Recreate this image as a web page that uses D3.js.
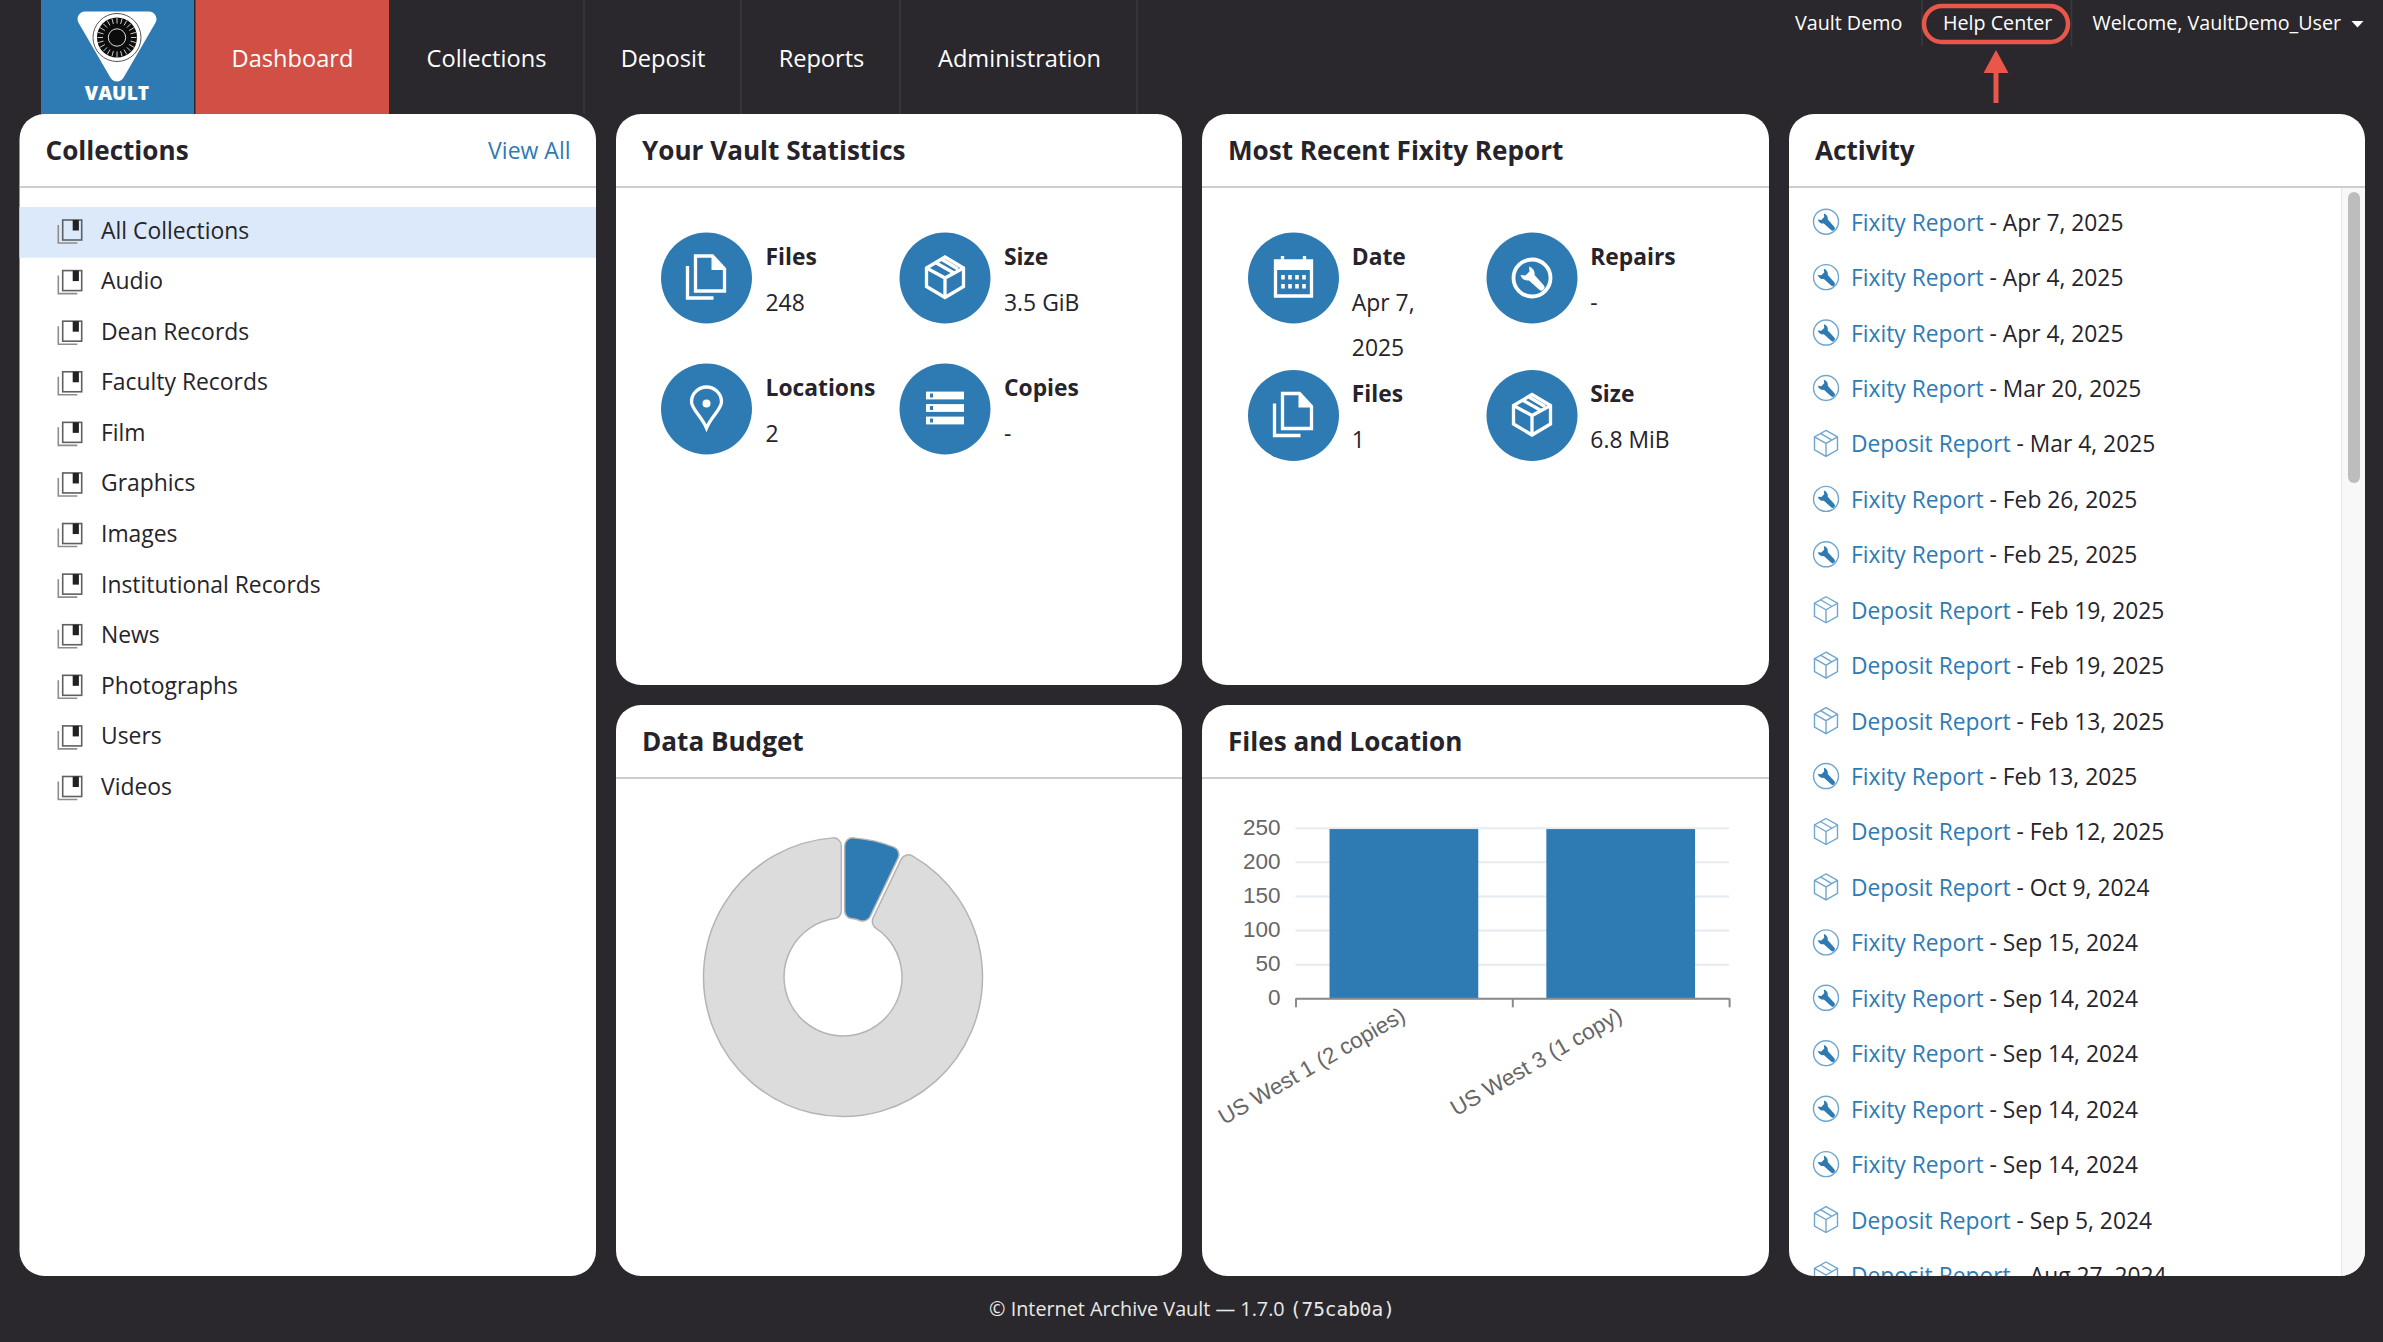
<!DOCTYPE html>
<html>
<head>
<meta charset="utf-8">
<script src="https://d3js.org/d3.v7.min.js"></script>
<style>
  html, body { margin: 0; padding: 0; background: #2a282c; }
  svg { display: block; }
  text { font-family: "Open Sans", sans-serif; }
</style>
</head>
<body>
<svg id="page" width="2383" height="1342"></svg>
<script>
// ---- data ----
var navItems = ["Collections", "Deposit", "Reports", "Administration"];
var navCenters = [486.5, 663, 821.5, 1019.5];
var navSeparators = [584, 741, 900, 1137];

var collections = ["All Collections", "Audio", "Dean Records", "Faculty Records", "Film", "Graphics",
  "Images", "Institutional Records", "News", "Photographs", "Users", "Videos"];

var vaultLabels = ["Files", "Size", "Locations", "Copies"];
var vaultValues = ["248", "3.5 GiB", "2", "-"];
var vaultIcons = ["files", "box", "pin", "server"];

var fixityLabels = ["Date", "Repairs", "Files", "Size"];
var fixityValues = [["Apr 7,", "2025"], ["-"], ["1"], ["6.8 MiB"]];
var fixityIcons = ["calendar", "wrench", "files", "box"];

var budgetNames = ["Used", "Free"];
var budgetValues = [6.8, 93.2];

var locationNames = ["US West 1 (2 copies)", "US West 3 (1 copy)"];
var locationFiles = [248, 248];
var fileTicks = [0, 50, 100, 150, 200, 250];

var activityTypes = ["Fixity", "Fixity", "Fixity", "Fixity", "Deposit", "Fixity", "Fixity", "Deposit", "Deposit", "Deposit",
  "Fixity", "Deposit", "Deposit", "Fixity", "Fixity", "Fixity", "Fixity", "Fixity", "Deposit", "Deposit"];
var activityDates = ["Apr 7, 2025", "Apr 4, 2025", "Apr 4, 2025", "Mar 20, 2025", "Mar 4, 2025", "Feb 26, 2025", "Feb 25, 2025",
  "Feb 19, 2025", "Feb 19, 2025", "Feb 13, 2025", "Feb 13, 2025", "Feb 12, 2025", "Oct 9, 2024", "Sep 15, 2024",
  "Sep 14, 2024", "Sep 14, 2024", "Sep 14, 2024", "Sep 14, 2024", "Sep 5, 2024", "Aug 27, 2024"];

var BLUE = "#2e7bb4", INK = "#26242a", RED = "#e8574a";

var svg = d3.select("#page");
var defs = svg.append("defs");

// ---- icons, drawn around 0,0 ----
function drawIcon(g, name, color, w) {
  var line = function (d) {
    return g.append("path").attr("d", d).attr("fill", "none").attr("stroke", color)
      .attr("stroke-width", w).attr("stroke-linejoin", "miter");
  };
  if (name == "files") {
    line("M-11,-22 H6 L18,-9 V13 H-11 Z");
    g.append("path").attr("d", "M5,-24 L20,-8 H5 Z").attr("fill", color);
    line("M-19,-12 V20 H7");
  } else if (name == "box") {
    line("M0,-21 L18.5,-10 V8.5 L0,19.5 L-18.5,8.5 V-10 Z");
    line("M-18.5,-10 L0,0 L18.5,-10 M0,0 V19.5");
    line("M-9.5,-15.5 L9,-5 M-3,-18.5 L13,-9");
  } else if (name == "pin") {
    line("M0,19 C-5,7 -15,0 -15,-7 A15,15 0 1 1 15,-7 C15,0 5,7 0,19 Z");
    g.append("circle").attr("cy", -5.5).attr("r", 4).attr("fill", color);
  } else if (name == "server") {
    [-13.5, -1, 11.5].forEach(function (y) {
      g.append("rect").attr("x", -19).attr("y", y - 3.9).attr("width", 38).attr("height", 7.8).attr("fill", color);
      g.append("rect").attr("x", -15).attr("y", y - 2).attr("width", 3).attr("height", 4).attr("fill", BLUE);
    });
  } else if (name == "calendar") {
    line("M-18,-17 H18 V18 H-18 Z");
    g.append("rect").attr("x", -18).attr("y", -17).attr("width", 36).attr("height", 9).attr("fill", color);
    line("M-11,-22 V-15 M11,-22 V-15");
    [-10.5, -3.5, 3.5, 10.5].forEach(function (x) {
      [-1, 8].forEach(function (y) {
        g.append("rect").attr("x", x - 1.8).attr("y", y - 2).attr("width", 3.6).attr("height", 4.5).attr("fill", color);
      });
    });
  } else if (name == "wrench") {
    g.append("circle").attr("r", 18.5).attr("fill", "none").attr("stroke", color).attr("stroke-width", w + 0.5);
    wrench(g, color, 1);
  }
}

// spanner used in the repairs icon and the small activity icon
function wrench(g, color, k) {
  g.append("path")
    .attr("d", "M-3,-11.5 L-2.5,-6.5 L-6.5,-2.5 L-11.5,-3 A7.5,7.5 0 0 0 -3,2.5 L7,11.5 A3,3 0 0 0 11.5,7 L2.5,-3 A7.5,7.5 0 0 0 -3,-11.5 Z")
    .attr("transform", "scale(" + k + ")")
    .attr("fill", color);
}

function smallActivityIcon(g, type) {
  var c = "#6fa6cf";
  if (type == "Fixity") {
    g.append("circle").attr("r", 12.5).attr("fill", "none").attr("stroke", c).attr("stroke-width", 1.4);
    wrench(g, BLUE, 0.72);
  } else {
    g.append("path").attr("d", "M0,-13 L11.5,-6.5 V6.5 L0,13 L-11.5,6.5 V-6.5 Z M-11.5,-6.5 L0,0 L11.5,-6.5 M0,0 V13 M-5.5,-10 L5.5,-3.5")
      .attr("fill", "none").attr("stroke", c).attr("stroke-width", 1.4);
  }
}

function collectionIcon(g) {
  g.append("path").attr("d", "M-12.2,-5 V13 H6.8").attr("fill", "none").attr("stroke", "#8d8d8d").attr("stroke-width", 1.6);
  g.append("rect").attr("x", -7.8).attr("y", -10).attr("width", 19).attr("height", 20).attr("fill", "none").attr("stroke", "#5f5f64").attr("stroke-width", 1.6);
  g.append("rect").attr("x", 2.2).attr("y", -10).attr("width", 6.2).attr("height", 10.5).attr("fill", "#222");
}

// ---- top bar ----
svg.append("rect").attr("x", 41).attr("y", 0).attr("width", 153).attr("height", 116).attr("fill", BLUE);
svg.append("rect").attr("x", 195.5).attr("y", 0).attr("width", 193.5).attr("height", 116).attr("fill", "#d14f45");

var logo = svg.append("g").attr("transform", "translate(117,0)");
logo.append("path").attr("d", "M-32,19 H32 L0,74 Z").attr("fill", "#fff").attr("stroke", "#fff")
  .attr("stroke-width", 15).attr("stroke-linejoin", "round");
logo.append("circle").attr("cy", 37.5).attr("r", 24).attr("fill", "#fff").attr("stroke", "#555").attr("stroke-width", 1);
logo.append("circle").attr("cy", 37.5).attr("r", 20).attr("fill", "#0c0c0c");
logo.append("circle").attr("cy", 37.5).attr("r", 8.7).attr("fill", "#0c0c0c").attr("stroke", "#ddd").attr("stroke-width", 1);
d3.range(24).forEach(function (i) {
  var a = i * Math.PI / 12;
  logo.append("line").attr("x1", 14 * Math.cos(a)).attr("y1", 37.5 + 14 * Math.sin(a))
    .attr("x2", 19.5 * Math.cos(a)).attr("y2", 37.5 + 19.5 * Math.sin(a))
    .attr("stroke", "#ccc").attr("stroke-width", 1);
});
logo.append("text").attr("y", 100).attr("text-anchor", "middle").attr("fill", "#fff")
  .attr("font-size", 19.2).attr("font-weight", 800).text("VAULT");

svg.append("text").attr("x", 292.5).attr("y", 59).attr("dy", "0.35em").attr("text-anchor", "middle")
  .attr("fill", "#fff").attr("font-size", 23.6).text("Dashboard");

svg.selectAll(".nav").data(navItems).enter().append("text").attr("class", "nav")
  .attr("x", function (d, i) { return navCenters[i]; }).attr("y", 59).attr("dy", "0.35em")
  .attr("text-anchor", "middle").attr("fill", "#fff").attr("font-size", 23.6).text(function (d) { return d; });

svg.selectAll(".navsep").data(navSeparators).enter().append("line").attr("class", "navsep")
  .attr("x1", function (d) { return d; }).attr("x2", function (d) { return d; })
  .attr("y1", 0).attr("y2", 114).attr("stroke", "#3a383d").attr("stroke-width", 1.5);

[1922, 2071.5].forEach(function (x) {
  svg.append("line").attr("x1", x).attr("x2", x).attr("y1", 0).attr("y2", 46).attr("stroke", "#3a383d").attr("stroke-width", 1.5);
});
function topText(x, s) {
  svg.append("text").attr("x", x).attr("y", 23).attr("dy", "0.35em").attr("fill", "#fff").attr("font-size", 19.7).text(s);
}
topText(1795, "Vault Demo");
topText(1943, "Help Center");
topText(2092.5, "Welcome, VaultDemo_User");
svg.append("path").attr("d", "M2351.5,21 H2363.5 L2357.5,27.5 Z").attr("fill", "#fff");

// callout around help center
svg.append("rect").attr("x", 1924).attr("y", 6).attr("width", 144).attr("height", 36).attr("rx", 18)
  .attr("fill", "none").attr("stroke", RED).attr("stroke-width", 4.5);
svg.append("path").attr("d", "M1996,50 L2008.5,73 H1998.5 V103 H1993.5 V73 H1983.5 Z").attr("fill", RED);

// ---- cards ----
function card(x, y, w, h, title) {
  var id = "clip" + Math.round(x) + "_" + Math.round(y);
  defs.append("clipPath").attr("id", id).append("rect").attr("x", 0).attr("y", 0).attr("width", w).attr("height", h).attr("rx", 25);
  var g = svg.append("g").attr("transform", "translate(" + x + "," + y + ")");
  g.append("rect").attr("width", w).attr("height", h).attr("rx", 25).attr("fill", "#fff");
  g.append("line").attr("x1", 0).attr("x2", w).attr("y1", 73).attr("y2", 73).attr("stroke", "#bdbdbd").attr("stroke-width", 1.5);
  g.append("text").attr("x", 26).attr("y", 36.5).attr("dy", "0.35em").attr("fill", INK)
    .attr("font-size", 26.1).attr("font-weight", 700).text(title);
  g.attr("data-clip", id);
  return g;
}

// collections list
var collCard = card(19.5, 114, 576.5, 1162, "Collections");
collCard.append("text").attr("x", 551).attr("y", 37).attr("dy", "0.35em").attr("text-anchor", "end")
  .attr("fill", BLUE).attr("font-size", 23).text("View All");

var collY = d3.scaleLinear().domain([0, 11]).range([116, 672.5]);
collCard.append("rect").attr("x", 0).attr("y", 93).attr("width", 576.5).attr("height", 50.7).attr("fill", "#dbe9fb");
var collRows = collCard.selectAll(".coll").data(collections).enter().append("g").attr("class", "coll")
  .attr("transform", function (d, i) { return "translate(0," + collY(i) + ")"; });
collRows.append("g").attr("transform", "translate(51,0)").each(function () { collectionIcon(d3.select(this)); });
collRows.append("text").attr("x", 81.5).attr("y", 0.5).attr("dy", "0.35em").attr("fill", INK).attr("font-size", 22.9).text(function (d) { return d; });

// the stat grids
function statGrid(g, labels, values, icons, xs, ys, labelX) {
  var cell = g.selectAll(".stat").data(labels).enter().append("g").attr("class", "stat")
    .attr("transform", function (d, i) { return "translate(" + xs(i % 2) + "," + ys(Math.floor(i / 2)) + ")"; });
  cell.append("circle").attr("r", 45.5).attr("fill", BLUE);
  cell.each(function (d, i) { drawIcon(d3.select(this), icons[i], "#fff", 3.3); });
  cell.append("text").attr("x", labelX).attr("y", -21).attr("dy", "0.35em").attr("fill", INK)
    .attr("font-size", 22.8).attr("font-weight", 700).text(function (d) { return d; });
  cell.each(function (d, i) {
    var lines = [].concat(values[i]);
    d3.select(this).selectAll(".val").data(lines).enter().append("text").attr("class", "val")
      .attr("x", labelX).attr("y", function (s, j) { return 24.5 + j * 45; }).attr("dy", "0.35em")
      .attr("fill", INK).attr("font-size", 22.9).text(function (s) { return s; });
  });
}

var vaultCard = card(616, 114, 566, 571, "Your Vault Statistics");
statGrid(vaultCard, vaultLabels, vaultValues, vaultIcons,
  d3.scaleLinear().domain([0, 1]).range([90.5, 329]),
  d3.scaleLinear().domain([0, 1]).range([164, 295]), 59);

var fixityCard = card(1202, 114, 567, 571, "Most Recent Fixity Report");
statGrid(fixityCard, fixityLabels, fixityValues, fixityIcons,
  d3.scaleLinear().domain([0, 1]).range([91.5, 330]),
  d3.scaleLinear().domain([0, 1]).range([164, 301.5]), 58.3);

// ---- data budget donut ----
var budgetCard = card(616, 705, 566, 571, "Data Budget");
var pie = d3.pie().sort(null).padAngle(0.022).value(function (d) { return d; });
var budgetArc = d3.arc().innerRadius(59).outerRadius(139.5).cornerRadius(8);
var donut = budgetCard.append("g").attr("transform", "translate(227,272)");
donut.selectAll("path").data(pie(budgetValues)).enter().append("path")
  .attr("d", budgetArc)
  .attr("fill", function (d, i) { return i == 0 ? BLUE : "#dcdcdc"; })
  .attr("stroke", "#b4b4b4").attr("stroke-width", 1.5);

// ---- files and location bars ----
var barsCard = card(1202, 705, 567, 571, "Files and Location");
var chart = barsCard.append("g").attr("transform", "translate(93.5,0)");
var x = d3.scaleBand().domain(locationNames).range([0, 433.6]).paddingInner(0.314).paddingOuter(0.157);
var y = d3.scaleLinear().domain([0, 250]).range([293.3, 122.7]);
var edges = d3.scalePoint().domain(d3.range(locationNames.length + 1)).range(x.range());

var yAxis = d3.axisLeft(y).tickValues(fileTicks).tickSize(-433.6).tickPadding(15);
var yg = chart.append("g").call(yAxis);
yg.select(".domain").remove();
yg.selectAll("line").attr("stroke", "#e6ebf2").attr("stroke-width", 2);
yg.selectAll("text").attr("fill", "#666").attr("font-size", 22.5).attr("dy", "0.29em")
  .style("font-family", "'Liberation Sans', Arial, sans-serif");

chart.selectAll(".bar").data(locationFiles).enter().append("rect").attr("class", "bar")
  .attr("x", function (d, i) { return x(locationNames[i]); })
  .attr("y", function (d) { return y(d); })
  .attr("width", x.bandwidth())
  .attr("height", function (d) { return y(0) - y(d); })
  .attr("fill", BLUE);

var edgeG = chart.append("g").attr("transform", "translate(0," + y(0) + ")")
  .call(d3.axisBottom(edges).tickSize(9).tickSizeOuter(0).tickFormat(""));
edgeG.selectAll("path,line").attr("stroke", "#8a8a8a").attr("stroke-width", 2);

var xg = chart.append("g").attr("transform", "translate(0," + y(0) + ")")
  .call(d3.axisBottom(x).tickSize(0).tickPadding(18));
xg.select(".domain").remove();
xg.selectAll("text").attr("fill", "#666").attr("font-size", 22.4)
  .style("font-family", "'Liberation Sans', Arial, sans-serif")
  .attr("text-anchor", "end").attr("transform", "translate(-14,-8) rotate(-30)");

// ---- activity list ----
var actCard = card(1789, 114, 576, 1162, "Activity");
var actBody = actCard.append("g").attr("clip-path", "url(#" + actCard.attr("data-clip") + ")");
actBody.append("rect").attr("x", 552.5).attr("y", 74).attr("width", 23.5).attr("height", 1088).attr("fill", "#f8f8f8");
actBody.append("line").attr("x1", 552.5).attr("x2", 552.5).attr("y1", 74).attr("y2", 1162).attr("stroke", "#e6e6e6").attr("stroke-width", 1);
actBody.append("rect").attr("x", 559).attr("y", 78).attr("width", 12).attr("height", 291).attr("rx", 6).attr("fill", "#bdbdbd");

var actY = d3.scaleLinear().domain([0, 19]).range([108.7, 1162]);
var actRows = actBody.selectAll(".act").data(activityTypes).enter().append("g").attr("class", "act")
  .attr("transform", function (d, i) { return "translate(0," + actY(i) + ")"; });
actRows.append("g").attr("transform", "translate(37,-1)").each(function (d) { smallActivityIcon(d3.select(this), d); });
var actText = actRows.append("text").attr("x", 62).attr("dy", "0.35em").attr("font-size", 22.8);
actText.append("tspan").attr("fill", BLUE).text(function (d) { return d + " Report"; });
actText.append("tspan").attr("fill", INK).text(function (d, i) { return " - " + activityDates[i]; });

// ---- footer ----
var foot = svg.append("text").attr("x", 1192).attr("y", 1309).attr("dy", "0.35em").attr("text-anchor", "middle")
  .attr("fill", "#e8e8e8").attr("font-size", 19.8);
foot.append("tspan").text("© Internet Archive Vault — 1.7.0 ");
foot.append("tspan").style("font-family", "'DejaVu Sans Mono', monospace").attr("font-size", 19.4).text(" (75cab0a)");
</script>
</body>
</html>
